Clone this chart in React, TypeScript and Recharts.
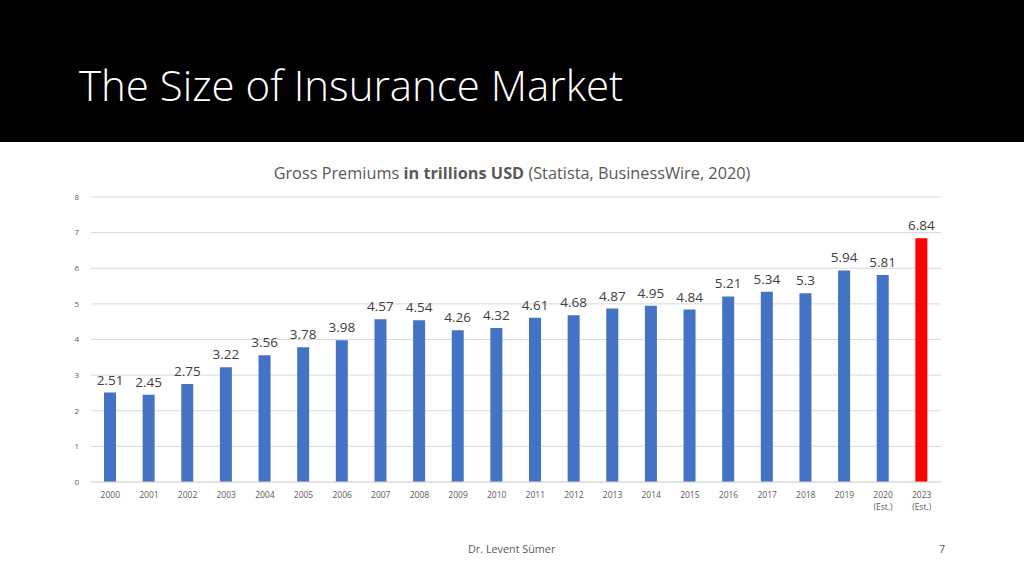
import React from 'react';
import { BarChart, Bar, XAxis, YAxis, CartesianGrid, Cell, LabelList } from 'recharts';

const years = ['2000','2001','2002','2003','2004','2005','2006','2007','2008','2009','2010','2011','2012','2013','2014','2015','2016','2017','2018','2019','2020\n(Est.)','2023\n(Est.)'];
const premiums = [2.51,2.45,2.75,3.22,3.56,3.78,3.98,4.57,4.54,4.26,4.32,4.61,4.68,4.87,4.95,4.84,5.21,5.34,5.3,5.94,5.81,6.84];
const yTicks = [0,1,2,3,4,5,6,7,8];
const highlightYear = '2023\n(Est.)';

const data = years.map((y, i) => ({ year: y, value: premiums[i] }));

const FONT = '"Open Sans", "Noto Sans", sans-serif';

const XTick = (props: any) => {
  const { x, y, payload } = props;
  const lines = String(payload.value).split('\n');
  return (
    <text x={x} y={y} textAnchor="middle" fill="#595959" fontSize={8.5} fontFamily={FONT}>
      {lines.map((l, i) => (
        <tspan key={i} x={x} dy={i === 0 ? 8 : 12}>{l}</tspan>
      ))}
    </text>
  );
};

export default function App() {
  return (
    <div style={{ position: 'absolute', left: 0, top: 0, width: 1024, height: 576, background: '#fff', overflow: 'hidden' }}>
      <div style={{ position: 'absolute', left: 0, top: 0, width: 1024, height: 142, background: '#000' }} />
      <div style={{ position: 'absolute', left: 79, top: 59, color: '#fff', fontFamily: FONT, fontWeight: 300, fontSize: 42, lineHeight: '52px', whiteSpace: 'nowrap' }}>
        The Size of Insurance Market
      </div>
      <div style={{ position: 'absolute', left: 0, width: 1024, top: 162, textAlign: 'center', color: '#595959', fontFamily: FONT, fontSize: 16.3, lineHeight: '22px', whiteSpace: 'nowrap' }}>
        Gross Premiums <b>in trillions USD</b> (Statista, BusinessWire, 2020)
      </div>
      <div style={{ position: 'absolute', left: 0, top: 0 }}>
        <BarChart width={1024} height={576} data={data} margin={{ top: 197, right: 83, bottom: 64, left: 71 }}>
          <CartesianGrid vertical={false} stroke="#d9d9d9" />
          <XAxis dataKey="year" interval={0} height={30} tick={<XTick />} tickLine={false} axisLine={{ stroke: '#d9d9d9' }} />
          <YAxis domain={[0, 8]} ticks={yTicks} width={20} tickLine={false} axisLine={false} tickMargin={6} tick={{ fill: '#595959', fontSize: 8, fontFamily: FONT }} />
          <Bar dataKey="value" barSize={12} isAnimationActive={false}>
            {data.map((d, i) => (
              <Cell key={i} fill={d.year === highlightYear ? '#FF0000' : '#4472C4'} />
            ))}
            <LabelList dataKey="value" position="top" offset={8} fill="#404040" fontSize={13.5} fontFamily={FONT} />
          </Bar>
        </BarChart>
      </div>
      <div style={{ position: 'absolute', left: 468, top: 541, color: '#595959', fontFamily: FONT, fontSize: 10.8, lineHeight: '16px' }}>
        Dr. Levent Sümer
      </div>
      <div style={{ position: 'absolute', left: 939, top: 541, color: '#595959', fontFamily: FONT, fontSize: 10.8, lineHeight: '16px' }}>
        7
      </div>
    </div>
  );
}
